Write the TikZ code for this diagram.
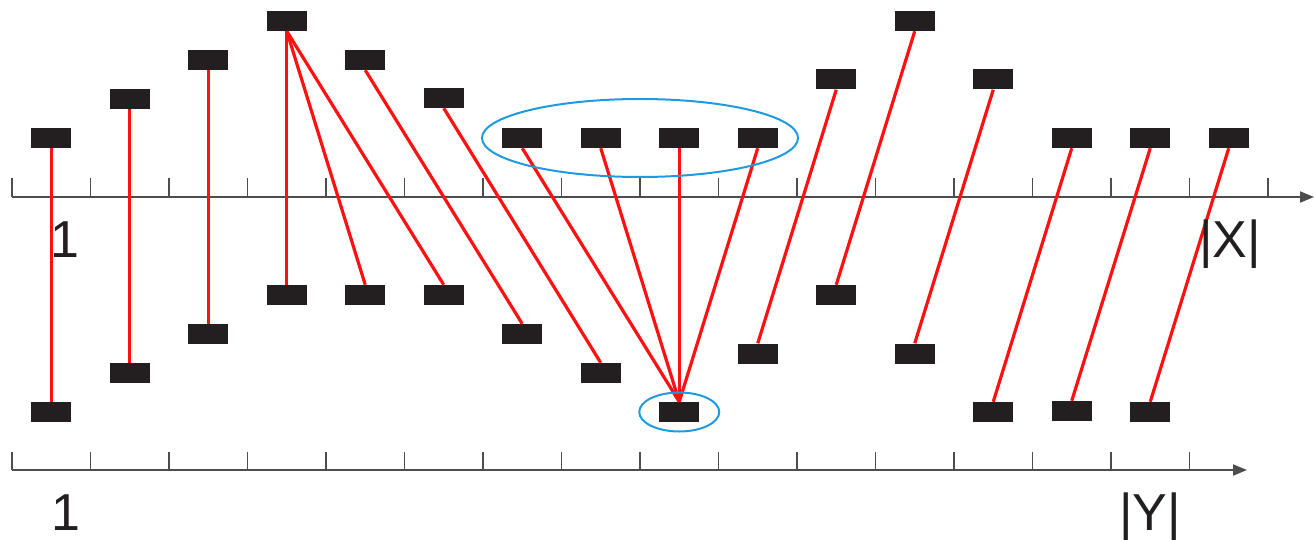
\documentclass[tikz,border=0pt]{standalone}
\usepackage{fontspec}
\setmainfont{Liberation Sans}
\usetikzlibrary{arrows.meta}
\definecolor{boxblack}{HTML}{231F20}
\definecolor{axisgray}{HTML}{4D4D4D}
\definecolor{linkred}{HTML}{FF1111}
\definecolor{ringblue}{HTML}{1E9BE0}
\tikzset{
  elem/.style={rectangle, fill=boxblack, minimum width=40pt, minimum height=20pt, inner sep=0pt},
  link/.style={draw=linkred, line width=3.2pt},
  axisline/.style={draw=axisgray, line width=2pt},
  tickline/.style={draw=axisgray, line width=1.6pt},
  ring/.style={draw=ringblue, line width=2pt},
  lbl/.style={text=boxblack, font=\fontsize{52}{52}\selectfont, anchor=base, inner sep=0pt}
}
\begin{document}
\begin{tikzpicture}[x=1pt,y=-1pt]
\useasboundingbox (0,0) rectangle (1314,540);
% axes
\coordinate (xs) at (12,197);
\coordinate (xe) at (1314,197);
\coordinate (ys) at (12,470);
\coordinate (ye) at (1247,470);
\draw[axisline,-{Triangle[length=14pt,width=11pt]}] (xs) -- (xe);
\draw[axisline,-{Triangle[length=14pt,width=11pt]}] (ys) -- (ye);
\foreach \k in {0,...,16} \draw[tickline] (12+78.5*\k,197) -- (12+78.5*\k,178);
\foreach \k in {0,...,15} \draw[tickline] (12+78.5*\k,470) -- (12+78.5*\k,452);
% top elements
\node[elem] (x1) at (51.25,138) {};
\node[elem] (x2) at (129.75,99) {};
\node[elem] (x3) at (208.25,60) {};
\node[elem] (x4) at (286.75,21) {};
\node[elem] (x5) at (365.25,60) {};
\node[elem] (x6) at (443.75,98) {};
\node[elem] (x7) at (522.25,138) {};
\node[elem] (x8) at (600.75,138) {};
\node[elem] (x9) at (679.25,138) {};
\node[elem] (x10) at (757.75,138) {};
\node[elem] (x11) at (836.25,79.5) {};
\node[elem] (x12) at (914.75,21) {};
\node[elem] (x13) at (993.25,79.5) {};
\node[elem] (x14) at (1071.75,138) {};
\node[elem] (x15) at (1150.25,138) {};
\node[elem] (x16) at (1228.75,138) {};
% bottom elements
\node[elem] (y1) at (51.25,412) {};
\node[elem] (y2) at (129.75,373) {};
\node[elem] (y3) at (208.25,334) {};
\node[elem] (y4) at (286.75,295) {};
\node[elem] (y5) at (365.25,295) {};
\node[elem] (y6) at (443.75,295) {};
\node[elem] (y7) at (522.25,334) {};
\node[elem] (y8) at (600.75,373) {};
\node[elem] (y9) at (679.25,412) {};
\node[elem] (y10) at (757.75,353.5) {};
\node[elem] (y11) at (836.25,295) {};
\node[elem] (y12) at (914.75,353.5) {};
\node[elem] (y13) at (993.25,412) {};
\node[elem] (y14) at (1071.75,411) {};
\node[elem] (y15) at (1150.25,412) {};
% links
\draw[link] (x1.south) -- (y1.north);
\draw[link] (x2.south) -- (y2.north);
\draw[link] (x3.south) -- (y3.north);
\draw[link] (x4.south) -- (y4.north);
\draw[link] (x4.south) -- (y5.north);
\draw[link] (x4.south) -- (y6.north);
\draw[link] (x5.south) -- (y7.north);
\draw[link] (x6.south) -- (y8.north);
\draw[link] (x7.south) -- (y9.north);
\draw[link] (x8.south) -- (y9.north);
\draw[link] (x9.south) -- (y9.north);
\draw[link] (x10.south) -- (y9.north);
\draw[link] (x11.south) -- (y10.north);
\draw[link] (x12.south) -- (y11.north);
\draw[link] (x13.south) -- (y12.north);
\draw[link] (x14.south) -- (y13.north);
\draw[link] (x15.south) -- (y14.north);
\draw[link] (x16.south) -- (y15.north);
% rings
\coordinate (gc) at (640,138);
\draw[ring] (gc) ellipse [x radius=158, y radius=39];
\draw[ring] (y9) ellipse [x radius=40, y radius=19.5];
% labels
\node[lbl] (lx1) at (65,257) {1};
\node[lbl] (lxn) at (1230,257) {|X|};
\node[lbl] (ly1) at (66,530) {1};
\node[lbl] (lyn) at (1150,530) {|Y|};
\end{tikzpicture}
\end{document}
